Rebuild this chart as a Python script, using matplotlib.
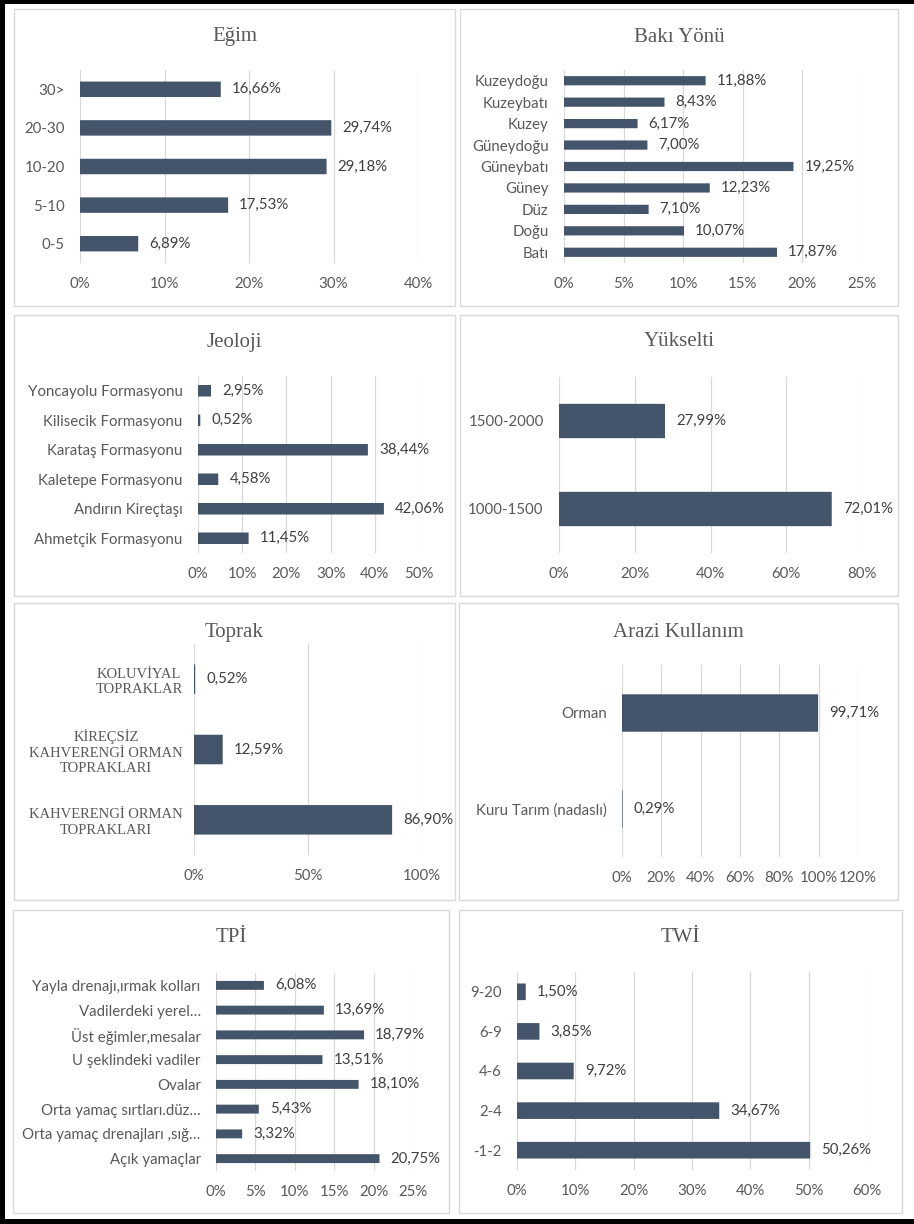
import matplotlib
matplotlib.use("Agg")
import matplotlib.pyplot as plt
from matplotlib.patches import Rectangle

# Eğim
egim_cats = ["0-5", "5-10", "10-20", "20-30", "30>"]
egim_vals = [6.89, 17.53, 29.18, 29.74, 16.66]

# Bakı Yönü
baki_cats = ["Batı", "Doğu", "Düz", "Güney", "Güneybatı", "Güneydoğu",
             "Kuzey", "Kuzeybatı", "Kuzeydoğu"]
baki_vals = [17.87, 10.07, 7.10, 12.23, 19.25, 7.00, 6.17, 8.43, 11.88]

# Jeoloji
jeo_cats = ["Ahmetçik Formasyonu", "Andırın Kireçtaşı", "Kaletepe Formasyonu",
            "Karataş Formasyonu", "Kilisecik Formasyonu", "Yoncayolu Formasyonu"]
jeo_vals = [11.45, 42.06, 4.58, 38.44, 0.52, 2.95]

# Yükselti
yuk_cats = ["1000-1500", "1500-2000"]
yuk_vals = [72.01, 27.99]

# Toprak
toprak_cats = ["KAHVERENGİ ORMAN\nTOPRAKLARI",
               "KİREÇSİZ\nKAHVERENGİ ORMAN\nTOPRAKLARI",
               "KOLUVİYAL\nTOPRAKLAR"]
toprak_vals = [86.90, 12.59, 0.52]

# Arazi Kullanım
arazi_cats = ["Kuru Tarım (nadaslı)", "Orman"]
arazi_vals = [0.29, 99.71]

# TPİ
tpi_cats = ["Açık yamaçlar", "Orta yamaç drenajları ,sığ…", "Orta yamaç sırtları.düz…",
            "Ovalar", "U şeklindeki vadiler", "Üst eğimler,mesalar",
            "Vadilerdeki yerel…", "Yayla drenajı,ırmak kolları"]
tpi_vals = [20.75, 3.32, 5.43, 18.10, 13.51, 18.79, 13.69, 6.08]

# TWİ
twi_cats = ["-1-2", "2-4", "4-6", "6-9", "9-20"]
twi_vals = [50.26, 34.67, 9.72, 3.85, 1.50]

W, H = 914, 1224
BAR = "#44546A"
GRID = "#D9D9D9"
TXT = "#595959"
LAB = "#404040"
SANS = ["Lato", "DejaVu Sans"]
SERIF = ["Liberation Serif", "DejaVu Serif"]
FS = 10.8

fig = plt.figure(figsize=(W / 100, H / 100), dpi=100)
fig.patch.set_facecolor("white")


def fr(x0, y0, x1, y1):
    # pixel box (top-left origin) -> figure fraction rect
    return [x0 / W, 1 - y1 / H, (x1 - x0) / W, (y1 - y0) / H]


def panel(box, plot, title, title_y, cats, vals, xmax, step, bar_h=0.4,
          serif_cats=False):
    x0, y0, x1, y1 = box
    fig.add_artist(Rectangle((x0 / W, 1 - y1 / H), (x1 - x0) / W, (y1 - y0) / H,
                             transform=fig.transFigure, facecolor="white",
                             edgecolor=GRID, linewidth=1.0, zorder=0))
    fig.text((x0 + x1) / 2 / W, 1 - title_y / H, title, ha="center", va="center",
             fontsize=15, color=TXT, family=SERIF)

    ax = fig.add_axes(fr(*plot))
    ax.set_facecolor("none")
    n = len(cats)
    ys = list(range(n))
    bars = ax.barh(ys, vals, height=bar_h, color=BAR, zorder=3)
    for b in bars:
        b.set_snap(False)
    ax.set_xlim(0, xmax)
    ax.set_ylim(-0.5, n - 0.5)
    ticks = list(range(0, xmax + 1, step))
    ax.set_xticks(ticks)
    ax.set_xticklabels([f"{t}%" for t in ticks], fontsize=FS, color=TXT, family=SANS)
    ax.set_yticks(ys)
    for s in ax.spines.values():
        s.set_visible(False)
    ax.grid(axis="x", color=GRID, linewidth=0.9, zorder=0)
    ax.tick_params(axis="x", length=0, pad=10)
    if serif_cats:
        ax.set_yticklabels(cats, fontsize=10.5, color=TXT, family=SERIF,
                           ha="right", multialignment="center", linespacing=1.25)
        ax.tick_params(axis="y", length=0, pad=8)
    else:
        ax.set_yticklabels(cats, fontsize=FS, color=TXT, family=SANS)
        ax.tick_params(axis="y", length=0, pad=11)
    for y, v in zip(ys, vals):
        ax.annotate(f"{v:.2f}".replace(".", ",") + "%", (v, y), xytext=(8, 0),
                    textcoords="offset points", ha="left", va="center",
                    fontsize=FS, color=LAB, family=SANS)
    return ax


panel((14, 9, 455, 306), (80, 70, 418, 263), "Eğim", 37,
      egim_cats, egim_vals, 40, 10, 0.4)
panel((460, 9, 898, 306), (564, 70, 862, 263), "Bakı Yönü", 37,
      baki_cats, baki_vals, 25, 5, 0.43)
panel((14, 315, 455, 596), (198, 376, 419, 553), "Jeoloji", 342,
      jeo_cats, jeo_vals, 50, 10, 0.39)
panel((460, 315, 898, 596), (559, 377, 862, 553), "Yükselti", 342,
      yuk_cats, yuk_vals, 80, 20, 0.39)
panel((14, 603, 455, 900), (194, 644, 422, 855), "Toprak", 632,
      toprak_cats, toprak_vals, 100, 50, 0.42, serif_cats=True)
panel((459, 603, 898, 900), (622, 665, 858, 857), "Arazi Kullanım", 632,
      arazi_cats, arazi_vals, 120, 20, 0.39)
panel((13, 910, 449, 1213), (216, 973, 413, 1171), "TPİ", 937,
      tpi_cats, tpi_vals, 25, 5, 0.36)
panel((459, 910, 902, 1213), (517, 972, 867, 1170), "TWİ", 937,
      twi_cats, twi_vals, 60, 10, 0.42)

# black outer frame (left, top, bottom)
for rx, ry, rw, rh in [(0, 0, 5, H), (0, 0, W, 4), (0, H - 5, W, 5)]:
    fig.add_artist(Rectangle((rx / W, 1 - (ry + rh) / H), rw / W, rh / H,
                             transform=fig.transFigure, facecolor="black",
                             edgecolor="none", zorder=10))

fig.savefig("out.png", dpi=100, facecolor="white")
